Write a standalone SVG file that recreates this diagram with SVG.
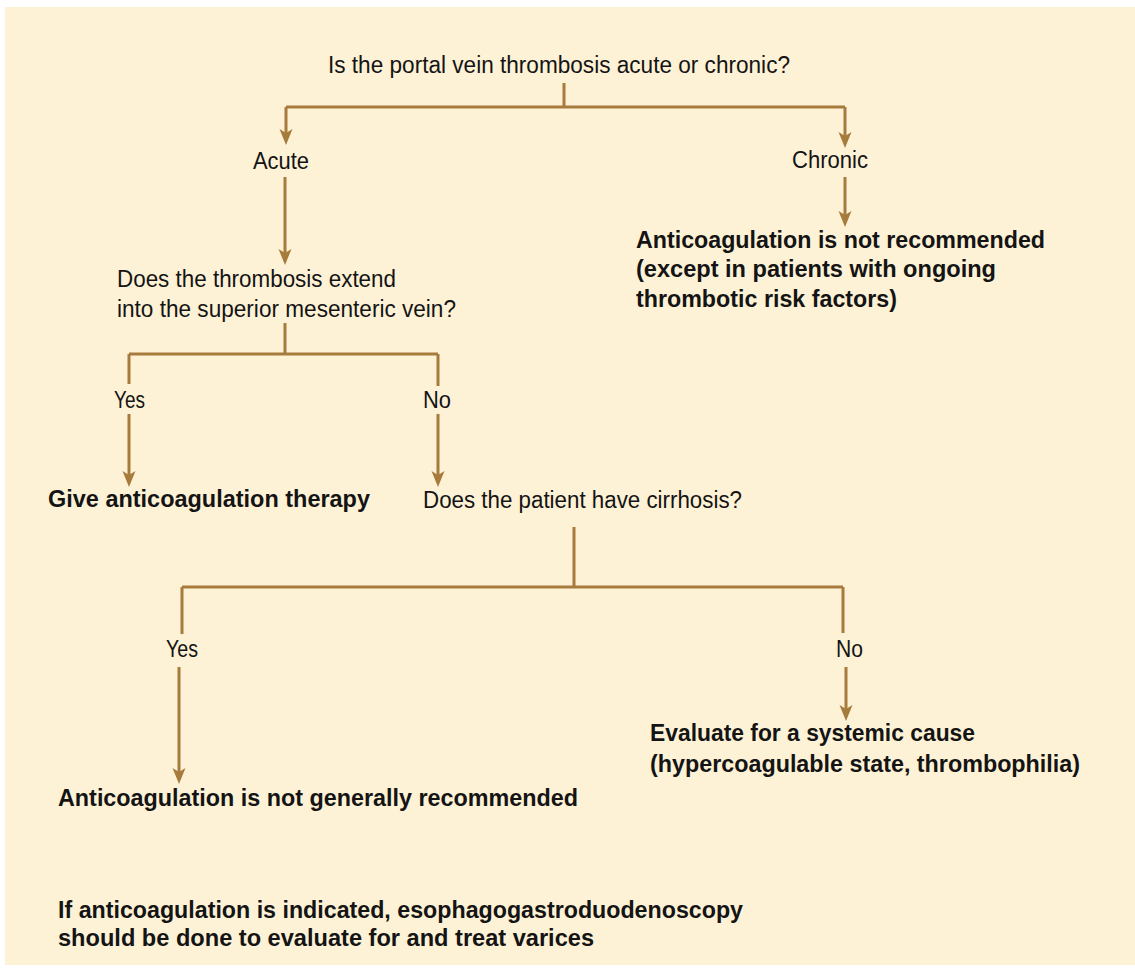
<svg xmlns="http://www.w3.org/2000/svg" width="1135" height="970" viewBox="0 0 1135 970">
  <style>
    .t { font-family: "Liberation Sans", Arial, sans-serif; font-size: 23.5px; fill: #141414; }
    .b { font-family: "Liberation Sans", Arial, sans-serif; font-size: 23.5px; font-weight: bold; fill: #141414; }
    .c { fill: none; stroke: #A67B3C; stroke-width: 3; }
    .a { marker-end: url(#arr); }
  </style>
  <defs>
    <marker id="arr" markerUnits="userSpaceOnUse" viewBox="-1 -8 18 16" markerWidth="18" markerHeight="16" refX="4" refY="0" orient="auto">
      <path d="M0,-6.5 L16,0 L0,6.5 L4,0 Z" fill="#A67B3C"/>
    </marker>
  </defs>
  <rect x="5" y="7" width="1130" height="958" fill="#FEF2D6"/>

  <g id="connectors">
    <path class="c" d="M564,83 V107 M286,107 H845"/>
    <path class="c a" d="M286,107 V133"/>
    <path class="c a" d="M845,107 V136"/>
    <path class="c a" d="M285,177 V253"/>
    <path class="c a" d="M845,177 V215"/>
    <path class="c" d="M285,323 V354 M129,354 H438 M129,354 V384 M438,354 V386"/>
    <path class="c a" d="M129,414 V475"/>
    <path class="c a" d="M438,414 V475"/>
    <path class="c" d="M574,527 V587 M182,587 H843 M182,587 V634 M843,587 V633"/>
    <path class="c a" d="M179,667 V772"/>
    <path class="c a" d="M846,667 V709"/>
  </g>

  <g id="q1">
    <text class="t" x="328" y="73" textLength="462" lengthAdjust="spacingAndGlyphs">Is the portal vein thrombosis acute or chronic?</text>
  </g>
  <g id="acute">
    <text class="t" x="253" y="169" textLength="56" lengthAdjust="spacingAndGlyphs">Acute</text>
  </g>
  <g id="chronic">
    <text class="t" x="792" y="168" textLength="76" lengthAdjust="spacingAndGlyphs">Chronic</text>
  </g>
  <g id="chronic-result">
    <text class="b" x="636" y="248" textLength="409" lengthAdjust="spacingAndGlyphs">Anticoagulation is not recommended</text>
    <text class="b" x="636" y="277" textLength="360" lengthAdjust="spacingAndGlyphs">(except in patients with ongoing</text>
    <text class="b" x="636" y="307" textLength="261" lengthAdjust="spacingAndGlyphs">thrombotic risk factors)</text>
  </g>
  <g id="q2">
    <text class="t" x="117" y="287" textLength="279" lengthAdjust="spacingAndGlyphs">Does the thrombosis extend</text>
    <text class="t" x="117" y="317" textLength="339" lengthAdjust="spacingAndGlyphs">into the superior mesenteric vein?</text>
  </g>
  <g id="yes1">
    <text class="t" x="114" y="408" textLength="31" lengthAdjust="spacingAndGlyphs">Yes</text>
  </g>
  <g id="no1">
    <text class="t" x="423" y="408" textLength="28" lengthAdjust="spacingAndGlyphs">No</text>
  </g>
  <g id="give-anticoag">
    <text class="b" x="48" y="507" textLength="322" lengthAdjust="spacingAndGlyphs">Give anticoagulation therapy</text>
  </g>
  <g id="q3">
    <text class="t" x="423" y="508" textLength="319" lengthAdjust="spacingAndGlyphs">Does the patient have cirrhosis?</text>
  </g>
  <g id="yes2">
    <text class="t" x="166" y="657" textLength="32" lengthAdjust="spacingAndGlyphs">Yes</text>
  </g>
  <g id="no2">
    <text class="t" x="836" y="657" textLength="27" lengthAdjust="spacingAndGlyphs">No</text>
  </g>
  <g id="not-generally">
    <text class="b" x="58" y="806" textLength="520" lengthAdjust="spacingAndGlyphs">Anticoagulation is not generally recommended</text>
  </g>
  <g id="evaluate">
    <text class="b" x="650" y="741" textLength="325" lengthAdjust="spacingAndGlyphs">Evaluate for a systemic cause</text>
    <text class="b" x="650" y="772" textLength="430" lengthAdjust="spacingAndGlyphs">(hypercoagulable state, thrombophilia)</text>
  </g>
  <g id="note">
    <text class="b" x="58" y="918" textLength="685" lengthAdjust="spacingAndGlyphs">If anticoagulation is indicated, esophagogastroduodenoscopy</text>
    <text class="b" x="58" y="946" textLength="536" lengthAdjust="spacingAndGlyphs">should be done to evaluate for and treat varices</text>
  </g>
</svg>
